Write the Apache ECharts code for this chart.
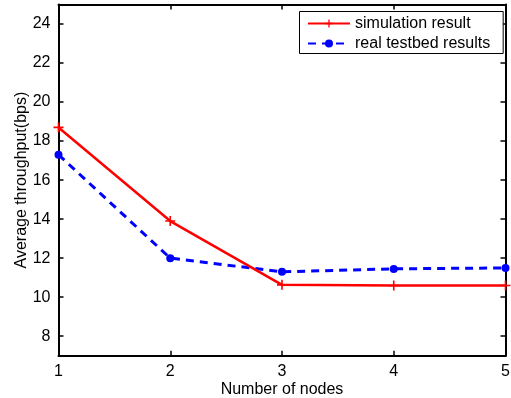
<!DOCTYPE html>
<html><head><meta charset="utf-8">
<script src="https://cdn.jsdelivr.net/npm/echarts@6/dist/echarts.min.js"></script>
<style>html,body{margin:0;padding:0;background:#fff}#c{width:511px;height:398px}</style>
</head><body><div id="c"></div>
<script>
const nodes = [1, 2, 3, 4, 5];
const simulation = [18.7, 13.9, 10.63, 10.6, 10.6];
const testbed = [17.3, 12.0, 11.3, 11.45, 11.5];
const yTicks = [8, 10, 12, 14, 16, 18, 20, 22, 24];
const seriesNames = ['simulation result', 'real testbed results'];
const xTitle = 'Number of nodes';
const yTitle = 'Average throughput(bps)';

const font = 'Liberation Sans, Arial, Helvetica, sans-serif';
const plus = 'path://M-1,-0.16L1,-0.16L1,0.16L-1,0.16ZM-0.16,-1L0.16,-1L0.16,1L-0.16,1Z';
const frameLine = {show: true, onZero: false, lineStyle: {color: '#000', width: 2}};
const tick = {show: true, inside: true, length: 5, lineStyle: {color: '#000', width: 1.5}};
const chart = echarts.init(document.getElementById('c'), null, {renderer: 'canvas'});
chart.setOption({
  animation: false,
  backgroundColor: '#fff',
  grid: {left: 58.5, right: 5.5, top: 4.5, bottom: 42.3, containLabel: false, outerBoundsMode: 'none'},
  legend: {
    orient: 'vertical', left: 299.5, top: 11.5,
    data: seriesNames,
    itemWidth: 42, itemHeight: 10, itemGap: 4,
    padding: [4, 13, 2, 7.5],
    borderColor: '#000', borderWidth: 1, backgroundColor: '#fff',
    textStyle: {fontFamily: font, fontSize: 16, color: '#000'}
  },
  xAxis: [{
    type: 'value', min: 1, max: 5, interval: 1,
    name: xTitle, nameLocation: 'middle', nameGap: 26, nameMoveOverlap: false,
    nameTextStyle: {fontFamily: font, fontSize: 16, color: '#000'},
    axisLine: frameLine, axisTick: tick,
    axisLabel: {fontFamily: font, fontSize: 16, color: '#000', margin: 8},
    splitLine: {show: false}
  }, {
    type: 'value', min: 1, max: 5, interval: 1, position: 'top',
    axisLine: frameLine, axisTick: tick,
    axisLabel: {show: false}, splitLine: {show: false}
  }],
  yAxis: [{
    type: 'value', min: 7, max: 25,
    name: yTitle, nameLocation: 'middle', nameGap: 29, nameRotate: 90, nameMoveOverlap: false,
    nameTextStyle: {fontFamily: font, fontSize: 16, color: '#000'},
    axisLine: frameLine,
    axisTick: Object.assign({customValues: yTicks}, tick),
    axisLabel: {fontFamily: font, fontSize: 16, color: '#000', margin: 8, customValues: yTicks},
    splitLine: {show: false}
  }, {
    type: 'value', min: 7, max: 25, position: 'right',
    axisLine: frameLine,
    axisTick: Object.assign({customValues: yTicks}, tick),
    axisLabel: {show: false, customValues: yTicks}, splitLine: {show: false}
  }],
  series: [{
    name: seriesNames[0], type: 'line',
    data: nodes.map((n, i) => [n, simulation[i]]),
    symbol: plus, symbolSize: 10,
    lineStyle: {color: '#ff0000', width: 2.5},
    itemStyle: {color: '#ff0000'}, z: 3
  }, {
    name: seriesNames[1], type: 'line',
    data: nodes.map((n, i) => [n, testbed[i]]),
    symbol: 'circle', symbolSize: 8,
    lineStyle: {color: '#0000ff', width: 3, type: [8, 6]},
    itemStyle: {color: '#0000ff'}, z: 2
  }]
});
</script></body></html>
